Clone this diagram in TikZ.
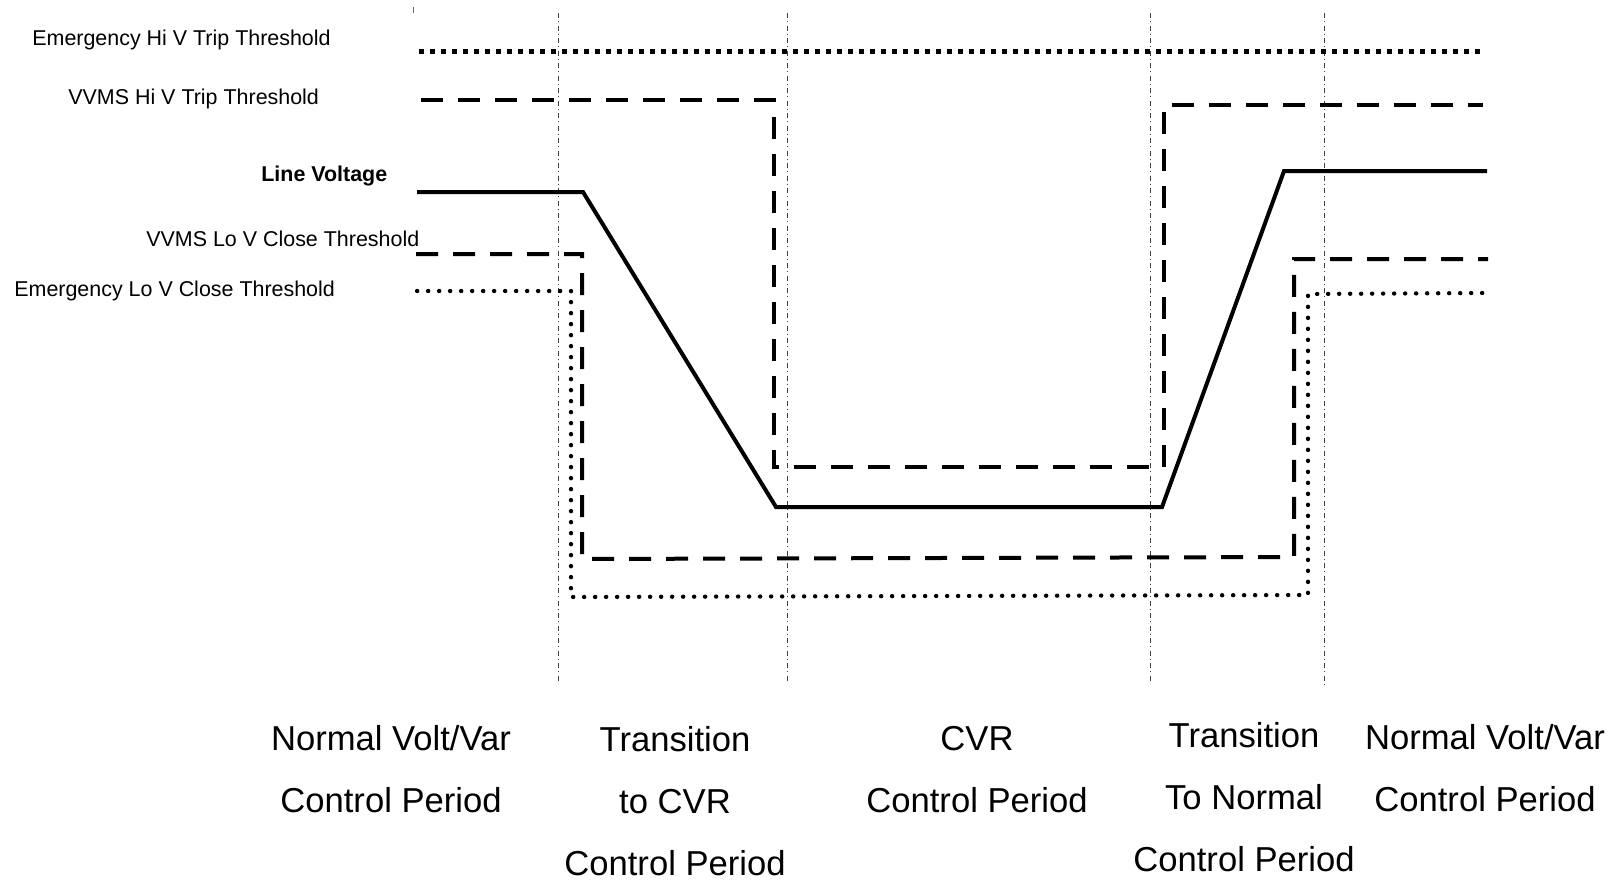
\documentclass[tikz,border=0pt]{standalone}
\usepackage{fontspec}
\setmainfont{Liberation Sans}
\usepackage{tikz}

\begin{document}
\begin{tikzpicture}[
  x=0.2mm, y=-0.2mm,
  levellabel/.style={anchor=base west, inner sep=0pt, font=\fontsize{12.2}{14}\selectfont},
  periodlabel/.style={anchor=south, inner sep=0pt, align=center,
    font=\fontsize{19.7}{35.2}\selectfont},
  divider/.style={line width=0.2mm, draw=black!75,
    dash pattern=on 1mm off 0.6mm on 0.2mm off 0.7mm},
  voltage/.style={line width=0.8mm, line join=miter},
  vvms/.style={line width=0.8mm, dash pattern=on 4.4mm off 3mm},
  emerghi/.style={line width=1mm, dash pattern=on 1mm off 1.2mm},
  emerglo/.style={line width=0.85mm, line cap=round, dash pattern=on 0.05mm off 2.15mm}
]
\useasboundingbox (0,0) rectangle (1619,880);

\draw[line width=0.2mm, draw=black!60] (413,7) -- (413,13);

\draw[divider] (558.5,13) -- (558.5,683);
\draw[divider] (787,13) -- (787,683);
\draw[divider] (1150.5,13) -- (1150.5,683);
\draw[divider] (1324.5,13) -- (1324.5,684);

\node[levellabel] (emhilabel) at (32,45.5) {Emergency Hi V Trip Threshold};
\node[levellabel] (vvmshilabel) at (68,104.5) {VVMS Hi V Trip Threshold};
\node[levellabel, font=\fontsize{12.2}{14}\selectfont\bfseries] (linelabel) at (261,181.5) {Line Voltage};
\node[levellabel] (vvmslolabel) at (146,246.5) {VVMS Lo V Close Threshold};
\node[levellabel] (emlolabel) at (14,296.5) {Emergency Lo V Close Threshold};

\draw[emerghi] (419,51) -- (1480,51);

\draw[vvms] (421,100) -- (774,100) -- (774,467) -- (1164,467)
  -- (1164,104.5) -- (1483,104.5);

\draw[voltage] (417,192) -- (583,192) -- (776,507) -- (1162,507)
  -- (1284,171) -- (1487,171);

\draw[vvms] (416,254) -- (582,254) -- (582,559) -- (1294,557)
  -- (1294,259) -- (1488,259);

\draw[emerglo] (417,291) -- (571,291) -- (571,597) -- (1308,595)
  -- (1308,294) -- (1484,293);

\node[periodlabel] (normal1) at (391,813) {Normal Volt/Var\\Control Period};
\node[periodlabel] (tocvr) at (675,876) {Transition\\to CVR\\Control Period};
\node[periodlabel] (cvr) at (977,813) {CVR\\Control Period};
\node[periodlabel] (tonormal) at (1244,872) {Transition\\To Normal\\Control Period};
\node[periodlabel] (normal2) at (1485,812) {Normal Volt/Var\\Control Period};

\end{tikzpicture}
\end{document}
